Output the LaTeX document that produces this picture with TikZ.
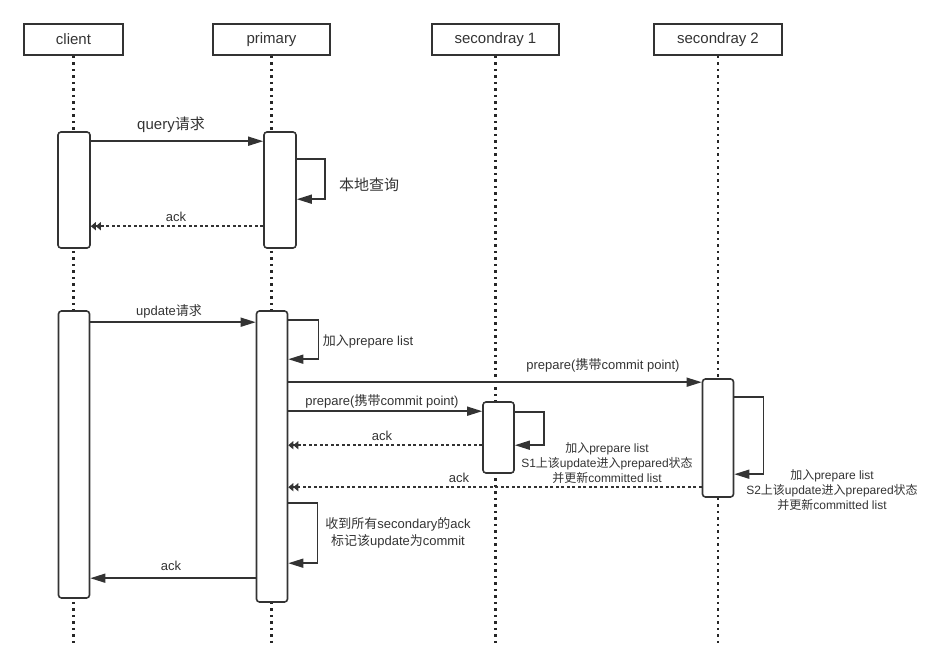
\documentclass[tikz,border=0pt]{standalone}
\usepackage{fontspec}
\setmainfont{Liberation Sans}
\newfontfamily\cjk{Noto Sans CJK SC}
\newcommand\zh[1]{{\cjk #1}}
\usetikzlibrary{arrows.meta}
\definecolor{ink}{HTML}{333333}

\tikzset{
	actor/.style={draw=ink, line width=1.6pt, minimum height=31pt, inner sep=0pt, text=ink, font=\fontsize{15}{18}\selectfont},
	bar/.style={draw=ink, fill=white, line width=1.6pt, rounded corners=3pt, minimum width=31pt, inner sep=0pt},
	life/.style={black!85, line width=2.2pt, dash pattern=on 2.5pt off 4pt},
	msg/.style={ink, line width=1.5pt, -{Triangle[length=15pt,width=9pt]}},
	reply/.style={ink, line width=1.5pt, dash pattern=on 3pt off 2.5pt, -{Triangle[length=5pt,width=8pt]Triangle[length=5pt,width=8pt]}},
	lbl/.style={text=ink, inner sep=0pt, font=\fontsize{13}{17}\selectfont},
	note/.style={lbl, align=center, font=\fontsize{12}{15}\selectfont},
}

\begin{document}
\begin{tikzpicture}[x=1pt,y=-1pt]
			%%%%% START %%%%%
			\useasboundingbox (0,0) rectangle (946,671);
			
			\node[actor, minimum width=99pt] (client) at (73.5,39.5) {client};
			\node[actor, minimum width=117pt] (primary) at (271.5,39.5) {primary};
			\node[actor, minimum width=127pt] (sec1) at (495.5,39.5) {secondray 1};
			\node[actor, minimum width=128pt] (sec2) at (718,39.5) {secondray 2};
			
			\coordinate (clientend) at (client.south |- 0,645);
			\coordinate (primaryend) at (primary.south |- 0,645);
			\coordinate (sec1end) at (sec1.south |- 0,645);
			\coordinate (sec2end) at (sec2.south |- 0,645);
			\draw[life] (client.south) -- (clientend);
			\draw[life] (primary.south) -- (primaryend);
			\draw[life] (sec1.south) -- (sec1end);
			\draw[life] (sec2.south) -- (sec2end);
			
			% query
			\node[bar, minimum width=32pt, minimum height=116pt] (cq) at (74,190) {};
			\node[bar, minimum width=32pt, minimum height=116pt] (pq) at (280,190) {};
			
			\draw[msg] ([yshift=-10pt]cq.north east) -- ([yshift=-10pt]pq.north west);
			\draw[msg] ([yshift=-28pt]pq.north east) -- ++(28,0) -- ++(0,40) -- ++(-28,0);
			\draw[reply] ([yshift=-95pt]pq.north west) -- ([yshift=-95pt]cq.north east);
			
			\node[lbl, font=\fontsize{15}{18}\selectfont] (lquery) at (171,125) {query\zh{请求}};
			\node[lbl, font=\fontsize{15}{18}\selectfont] (llocal) at (369,185) {\zh{本地查询}};
			\node[lbl] (lack1) at (176,217) {ack};
			
			% update
			\node[bar, minimum height=287pt] (cu) at (74,454.5) {};
			\node[bar, minimum height=291pt] (pu) at (272,456.5) {};
			\node[bar, minimum height=71pt] (s1) at (498.5,437.5) {};
			\node[bar, minimum height=118pt] (s2) at (718,438) {};
			
			\draw[msg] ([yshift=-12pt]cu.north east) -- ([yshift=-12pt]pu.north west);
			\draw[msg] ([yshift=-10pt]pu.north east) -- ++(30,0) -- ++(0,39) -- ++(-30,0);
			\draw[msg] ([yshift=-72pt]pu.north east) -- ([yshift=-4pt]s2.north west);
			\draw[msg] ([yshift=-101pt]pu.north east) -- ([yshift=-10pt]s1.north west);
			\draw[msg] ([yshift=-11pt]s1.north east) -- ++(29,0) -- ++(0,33) -- ++(-29,0);
			\draw[reply] ([yshift=-44pt]s1.north west) -- ([yshift=-135pt]pu.north east);
			\draw[msg] ([yshift=-19pt]s2.north east) -- ++(29,0) -- ++(0,77) -- ++(-29,0);
			\draw[reply] ([yshift=-109pt]s2.north west) -- ([yshift=-177pt]pu.north east);
			\draw[msg] ([yshift=-193pt]pu.north east) -- ++(29,0) -- ++(0,60) -- ++(-29,0);
			\draw[msg] ([yshift=-268pt]pu.north west) -- ([yshift=-268pt]cu.north east);
			
			\node[lbl] (lupdate) at (169,311) {update\zh{请求}};
			\node[lbl] (ladd) at (368,341) {\zh{加入}prepare list};
			\node[lbl] (lprep2) at (603,365) {prepare(\zh{携带}commit point)};
			\node[lbl] (lprep1) at (382,401) {prepare(\zh{携带}commit point)};
			\node[lbl] (lack2) at (382,436) {ack};
			\node[lbl] (lack3) at (459,478) {ack};
			\node[note] (s1note) at (607,463) {\zh{加入}prepare list\\S1\zh{上该}update\zh{进入}prepared\zh{状态}\\\zh{并更新}committed list};
			\node[note] (s2note) at (832,490) {\zh{加入}prepare list\\S2\zh{上该}update\zh{进入}prepared\zh{状态}\\\zh{并更新}committed list};
			\node[lbl, align=center] (lcommit) at (398,533) {\zh{收到所有}secondary\zh{的}ack\\\zh{标记该}update\zh{为}commit};
			\node[lbl] (lack4) at (171,566) {ack};
			
			%%%%% END %%%%%
\end{tikzpicture}
\end{document}
